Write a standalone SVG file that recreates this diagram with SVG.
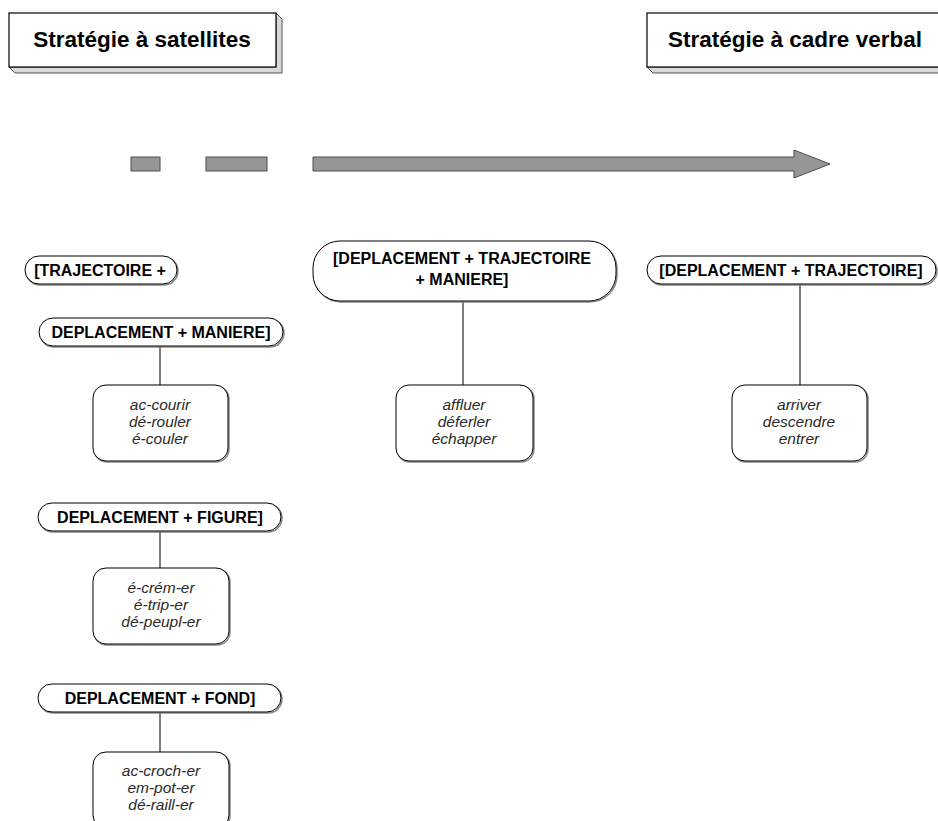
<svg xmlns="http://www.w3.org/2000/svg" width="938" height="821" viewBox="0 0 938 821">
<style>
  .title-face { fill: #ffffff; stroke: #000000; stroke-width: 1.2; }
  .title-ext { fill: #d9d9d9; stroke: #555555; stroke-width: 1; }
  .title-text { font-family: "Liberation Sans", Arial, sans-serif; font-weight: bold; font-size: 22.5px; fill: #000000; text-anchor: middle; }
  .pill { fill: #ffffff; stroke: #000000; stroke-width: 1; }
  .pill-shadow { fill: none; stroke: #888888; stroke-width: 1.5; }
  .label { font-family: "Liberation Sans", Arial, sans-serif; font-weight: bold; font-size: 16px; fill: #000000; text-anchor: middle; }
  .leaf { fill: #ffffff; stroke: #000000; stroke-width: 1; }
  .leaf-text { font-family: "Liberation Sans", Arial, sans-serif; font-style: italic; font-size: 15.5px; fill: #2a2a2a; text-anchor: middle; }
  .bar { fill: #969696; stroke: #4d4d4d; stroke-width: 1; }
  .conn { stroke: #000000; stroke-width: 1; fill: none; }
</style>

<g id="title-satellites">
  <polygon class="title-ext" points="276,13 282,19 282,73 15,73 9,67 276,67"/>
  <rect class="title-face" x="9" y="13" width="267" height="54"/>
  <text class="title-text" x="142" y="47">Stratégie à satellites</text>
</g>

<g id="title-cadre-verbal">
  <polygon class="title-ext" points="647,67 653,73 945,73 945,67"/>
  <rect class="title-face" x="647" y="13" width="300" height="54"/>
  <text class="title-text" x="795" y="47">Stratégie à cadre verbal</text>
</g>

<g id="scale-arrow">
  <rect class="bar" x="131" y="157" width="29" height="14"/>
  <rect class="bar" x="206" y="157" width="61" height="14"/>
  <polygon class="bar" points="313,157 794,157 794,150 830,164 794,178 794,171 313,171"/>
</g>

<g id="connectors">
  <line class="conn" x1="160" y1="346" x2="160" y2="385"/>
  <line class="conn" x1="463" y1="301" x2="463" y2="385"/>
  <line class="conn" x1="800" y1="284" x2="800" y2="385"/>
  <line class="conn" x1="160" y1="531" x2="160" y2="568"/>
  <line class="conn" x1="160" y1="712" x2="160" y2="752"/>
</g>

<g id="node-trajectoire">
  <rect class="pill-shadow" x="26" y="257" width="152" height="28" rx="14"/>
  <rect class="pill" x="25" y="256" width="152" height="28" rx="14"/>
  <text class="label" x="100" y="276">[TRAJECTOIRE +</text>
</g>

<g id="node-maniere">
  <rect class="pill-shadow" x="40" y="319" width="244" height="28" rx="14"/>
  <rect class="pill" x="39" y="318" width="244" height="28" rx="14"/>
  <text class="label" x="161" y="338">DEPLACEMENT + MANIERE]</text>
</g>

<g id="node-dep-traj-maniere">
  <rect class="pill-shadow" x="314" y="242" width="303" height="60" rx="27"/>
  <rect class="pill" x="313" y="241" width="303" height="60" rx="27"/>
  <text class="label" x="462" y="264">[DEPLACEMENT + TRAJECTOIRE</text>
  <text class="label" x="462" y="285">+ MANIERE]</text>
</g>

<g id="node-dep-traj">
  <rect class="pill-shadow" x="648" y="257" width="289" height="28" rx="14"/>
  <rect class="pill" x="647" y="256" width="289" height="28" rx="14"/>
  <text class="label" x="791" y="276">[DEPLACEMENT + TRAJECTOIRE]</text>
</g>

<g id="node-figure">
  <rect class="pill-shadow" x="39" y="504" width="243" height="28" rx="14"/>
  <rect class="pill" x="38" y="503" width="243" height="28" rx="14"/>
  <text class="label" x="160" y="523">DEPLACEMENT + FIGURE]</text>
</g>

<g id="node-fond">
  <rect class="pill-shadow" x="39" y="685" width="243" height="28" rx="14"/>
  <rect class="pill" x="38" y="684" width="243" height="28" rx="14"/>
  <text class="label" x="160" y="704">DEPLACEMENT + FOND]</text>
</g>

<g id="leaf-maniere">
  <rect class="pill-shadow" x="94" y="386" width="135" height="76" rx="13"/>
  <rect class="leaf" x="93" y="385" width="135" height="76" rx="13"/>
  <text class="leaf-text" x="160" y="410">ac-courir</text>
  <text class="leaf-text" x="160" y="427">dé-rouler</text>
  <text class="leaf-text" x="160" y="444">é-couler</text>
</g>

<g id="leaf-dep-traj-maniere">
  <rect class="pill-shadow" x="397" y="386" width="137" height="76" rx="13"/>
  <rect class="leaf" x="396" y="385" width="137" height="76" rx="13"/>
  <text class="leaf-text" x="464" y="410">affluer</text>
  <text class="leaf-text" x="464" y="427">déferler</text>
  <text class="leaf-text" x="464" y="444">échapper</text>
</g>

<g id="leaf-dep-traj">
  <rect class="pill-shadow" x="733" y="386" width="135" height="76" rx="13"/>
  <rect class="leaf" x="732" y="385" width="135" height="76" rx="13"/>
  <text class="leaf-text" x="799" y="410">arriver</text>
  <text class="leaf-text" x="799" y="427">descendre</text>
  <text class="leaf-text" x="799" y="444">entrer</text>
</g>

<g id="leaf-figure">
  <rect class="pill-shadow" x="94" y="569" width="136" height="76" rx="13"/>
  <rect class="leaf" x="93" y="568" width="136" height="76" rx="13"/>
  <text class="leaf-text" x="161" y="593">é-crém-er</text>
  <text class="leaf-text" x="161" y="610">é-trip-er</text>
  <text class="leaf-text" x="161" y="627">dé-peupl-er</text>
</g>

<g id="leaf-fond">
  <rect class="pill-shadow" x="94" y="753" width="136" height="76" rx="13"/>
  <rect class="leaf" x="93" y="752" width="136" height="76" rx="13"/>
  <text class="leaf-text" x="161" y="776">ac-croch-er</text>
  <text class="leaf-text" x="161" y="793">em-pot-er</text>
  <text class="leaf-text" x="161" y="810">dé-raill-er</text>
</g>
</svg>
